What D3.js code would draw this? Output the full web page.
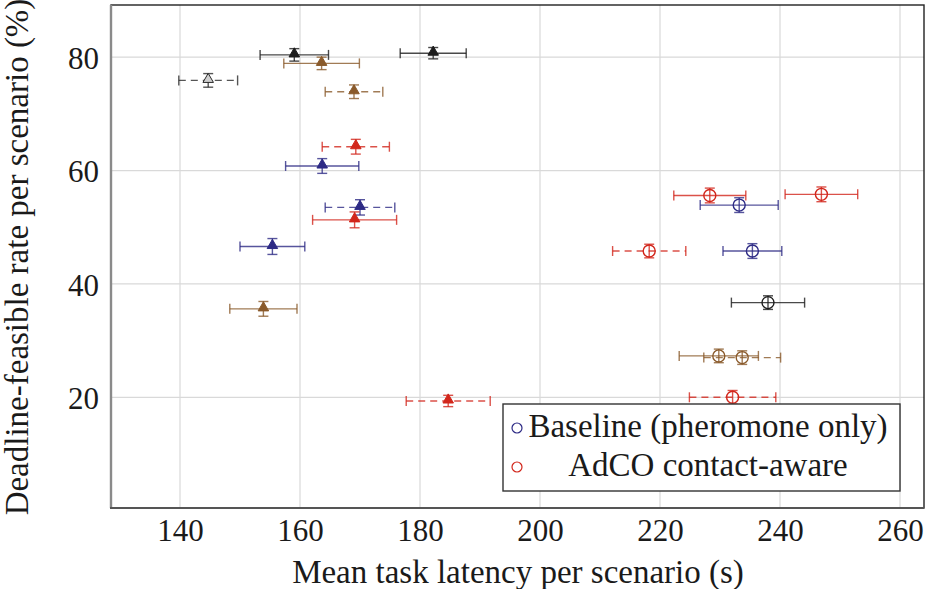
<!DOCTYPE html>
<html>
<head>
<meta charset="utf-8">
<script src="https://cdn.jsdelivr.net/npm/d3@7"></script>
<style>
  body { margin: 0; background: #fff; }
  svg { display: block; }
  text { font-family: "Liberation Serif", "DejaVu Serif", serif; fill: #1a1a1a; }
</style>
</head>
<body>
<svg id="chart"></svg>
<script>
// one entry per scenario point
var latency    = [159.05, 182.2, 163.6, 144.7, 169.0, 169.3, 163.7, 170.0, 169.1, 155.4, 153.9, 184.7,
                  228.3, 233.2, 246.9, 218.2, 235.4, 238.0, 229.8, 233.7, 232.1];
var latencyErr = [5.7, 5.5, 6.3, 4.9, 4.8, 5.6, 6.1, 5.8, 7.0, 5.4, 5.6, 7.0,
                  6.0, 6.5, 6.05, 6.1, 4.9, 6.1, 6.6, 6.4, 7.2];
var feasible   = [80.4, 80.7, 78.9, 75.9, 73.9, 64.2, 60.8, 53.5, 51.3, 46.6, 35.6, 19.35,
                  55.6, 53.9, 55.8, 45.8, 45.8, 36.7, 27.3, 27.0, 20.0];
var feasErr    = [1.1, 1.0, 1.1, 1.2, 1.2, 1.3, 1.3, 1.35, 1.4, 1.4, 1.3, 1.0,
                  1.3, 1.3, 1.3, 1.2, 1.3, 1.2, 1.2, 1.2, 1.2];
var marker     = ['tri', 'tri', 'tri', 'tri', 'tri', 'tri', 'tri', 'tri', 'tri', 'tri', 'tri', 'tri',
                  'circ', 'circ', 'circ', 'circ', 'circ', 'circ', 'circ', 'circ', 'circ'];
var group      = ['black', 'black', 'brown', 'grey', 'brown', 'red', 'blue', 'blue', 'red', 'blue', 'brown', 'red',
                  'red', 'blue', 'red', 'red', 'blue', 'black', 'brown', 'brown', 'red'];
var dashed     = [false, false, false, true, true, true, false, true, false, false, false, true,
                  false, false, false, true, false, false, false, true, true];

var xTicks = [140, 160, 180, 200, 220, 240, 260];
var yTicks = [20, 40, 60, 80];
var legendLabels = ['Baseline (pheromone only)', 'AdCO contact-aware'];

var colors = { black: '#1c1c1c', grey: '#2a2a2a', brown: '#8a5a2b', blue: '#2d2a85', red: '#d2261b' };

var W = 926, H = 589;
var svg = d3.select('#chart').attr('width', W).attr('height', H);

var x = d3.scaleLinear().domain([128.5, 264]).range([111, 924]);
var y = d3.scaleLinear().domain([0.47, 89.2]).range([508, 5]);

// grid
svg.append('g').selectAll('line').data(xTicks).enter().append('line')
  .attr('x1', function(d) { return x(d); }).attr('x2', function(d) { return x(d); })
  .attr('y1', y.range()[0]).attr('y2', y.range()[1])
  .attr('stroke', '#d9d9d9').attr('stroke-width', 1.2);
svg.append('g').selectAll('line').data(yTicks).enter().append('line')
  .attr('y1', function(d) { return y(d); }).attr('y2', function(d) { return y(d); })
  .attr('x1', x.range()[0]).attr('x2', x.range()[1])
  .attr('stroke', '#d9d9d9').attr('stroke-width', 1.2);

// axes (labels only, pgfplots-like frame drawn below)
var xAxis = svg.append('g').attr('transform', 'translate(0,' + 508 + ')')
  .call(d3.axisBottom(x).tickValues(xTicks).tickSize(0).tickPadding(0));
xAxis.select('.domain').remove();
xAxis.selectAll('text').attr('dy', null).attr('y', 33)
  .style('font-family', '"Liberation Serif", serif').style('font-size', '31px').attr('fill', '#1a1a1a');

var yAxis = svg.append('g').attr('transform', 'translate(' + 111 + ',0)')
  .call(d3.axisLeft(y).tickValues(yTicks).tickSize(0).tickPadding(12));
yAxis.select('.domain').remove();
yAxis.selectAll('text').attr('dy', '0.36em')
  .style('font-family', '"Liberation Serif", serif').style('font-size', '31px').attr('fill', '#1a1a1a');

// frame
svg.append('rect').attr('x', 111).attr('y', 5).attr('width', 924 - 111).attr('height', 508 - 5)
  .attr('fill', 'none').attr('stroke', '#222').attr('stroke-width', 1.4);
svg.append('line').attr('x1', 111).attr('x2', 111).attr('y1', 5).attr('y2', 508)
  .attr('stroke', '#8a8a8a').attr('stroke-width', 2.4);
svg.append('line').attr('x1', 110).attr('x2', 924).attr('y1', 508).attr('y2', 508)
  .attr('stroke', '#555').attr('stroke-width', 2);

var idx = d3.range(latency.length);
var cap = 5;

// error bars
var eb = svg.append('g').selectAll('g').data(idx).enter().append('g')
  .attr('stroke', function(i) { return colors[group[i]]; })
  .attr('stroke-width', 1.4)
  .attr('stroke-opacity', 0.8)
  .attr('fill', 'none');
eb.append('line')
  .attr('x1', function(i) { return x(latency[i] - latencyErr[i]); })
  .attr('x2', function(i) { return x(latency[i] + latencyErr[i]); })
  .attr('y1', function(i) { return y(feasible[i]); })
  .attr('y2', function(i) { return y(feasible[i]); })
  .attr('stroke-dasharray', function(i) { return dashed[i] ? '7,5' : null; });
eb.append('line')
  .attr('x1', function(i) { return x(latency[i] - latencyErr[i]); })
  .attr('x2', function(i) { return x(latency[i] - latencyErr[i]); })
  .attr('y1', function(i) { return y(feasible[i]) - cap; })
  .attr('y2', function(i) { return y(feasible[i]) + cap; });
eb.append('line')
  .attr('x1', function(i) { return x(latency[i] + latencyErr[i]); })
  .attr('x2', function(i) { return x(latency[i] + latencyErr[i]); })
  .attr('y1', function(i) { return y(feasible[i]) - cap; })
  .attr('y2', function(i) { return y(feasible[i]) + cap; });
eb.append('line')
  .attr('x1', function(i) { return x(latency[i]); })
  .attr('x2', function(i) { return x(latency[i]); })
  .attr('y1', function(i) { return y(feasible[i] - feasErr[i]); })
  .attr('y2', function(i) { return y(feasible[i] + feasErr[i]); });
eb.append('line')
  .attr('x1', function(i) { return x(latency[i]) - cap; })
  .attr('x2', function(i) { return x(latency[i]) + cap; })
  .attr('y1', function(i) { return y(feasible[i] + feasErr[i]); })
  .attr('y2', function(i) { return y(feasible[i] + feasErr[i]); });
eb.append('line')
  .attr('x1', function(i) { return x(latency[i]) - cap; })
  .attr('x2', function(i) { return x(latency[i]) + cap; })
  .attr('y1', function(i) { return y(feasible[i] - feasErr[i]); })
  .attr('y2', function(i) { return y(feasible[i] - feasErr[i]); });

// markers
var tri = d3.symbol().type(d3.symbolTriangle).size(48);
svg.append('g').selectAll('path.tri').data(idx.filter(function(i) { return marker[i] === 'tri'; }))
  .enter().append('path')
  .attr('d', tri)
  .attr('transform', function(i) { return 'translate(' + x(latency[i]) + ',' + (y(feasible[i]) - 1) + ')'; })
  .attr('fill', function(i) { return group[i] === 'grey' ? '#d0d0d0' : colors[group[i]]; })
  .attr('stroke', function(i) { return colors[group[i]]; })
  .attr('stroke-width', 1);

svg.append('g').selectAll('circle').data(idx.filter(function(i) { return marker[i] === 'circ'; }))
  .enter().append('circle')
  .attr('cx', function(i) { return x(latency[i]); })
  .attr('cy', function(i) { return y(feasible[i]); })
  .attr('r', 6)
  .attr('fill', 'none')
  .attr('stroke', function(i) { return colors[group[i]]; })
  .attr('stroke-width', 1.4);

// axis titles
svg.append('text').attr('x', 518).attr('y', 583).attr('text-anchor', 'middle')
  .style('font-size', '33px').text('Mean task latency per scenario (s)');
svg.append('text').attr('transform', 'translate(28,257) rotate(-90)').attr('text-anchor', 'middle')
  .style('font-size', '33px').text('Deadline-feasible rate per scenario (%)');

// legend
var lg = svg.append('g');
lg.append('rect').attr('x', 503).attr('y', 404).attr('width', 397).attr('height', 87)
  .attr('fill', '#fff').attr('stroke', '#333').attr('stroke-width', 1.4);
var legendColors = [colors.blue, colors.red];
lg.selectAll('circle').data(legendLabels).enter().append('circle')
  .attr('cx', 517).attr('cy', function(d, i) { return 428 + i * 39; })
  .attr('r', 5).attr('fill', 'none')
  .attr('stroke', function(d, i) { return legendColors[i]; }).attr('stroke-width', 1.2);
lg.selectAll('text').data(legendLabels).enter().append('text')
  .attr('x', 708).attr('y', function(d, i) { return 437 + i * 38.5; })
  .attr('text-anchor', 'middle').style('font-size', '33px')
  .text(function(d) { return d; });
</script>
</body>
</html>
